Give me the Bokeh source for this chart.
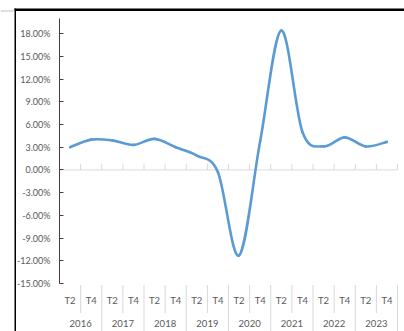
import numpy as np
from bokeh.plotting import figure
from bokeh.models import Range1d, FixedTicker, PrintfTickFormatter, BoxAnnotation
from bokeh.core.properties import value
from bokeh.embed import file_html
from bokeh.resources import INLINE

# ---- data ----
years = ["2016", "2017", "2018", "2019", "2020", "2021", "2022", "2023"]
halves = ["T2", "T4"]
growth = [3.0, 4.0, 3.9, 3.3, 4.1, 3.0, 1.9, -0.3,
          -11.3, 3.8, 18.4, 5.0, 3.1, 4.3, 3.1, 3.7]
y_ticks = [-15, -12, -9, -6, -3, 0, 3, 6, 9, 12, 15, 18]

FONT = "Lato"
TXT = "#595959"
GRID = "#D9D9D9"

n = len(growth)
xs = np.arange(n) + 0.5
ys = np.array(growth, dtype=float)
cat_labels = [h for _ in years for h in halves]

W, H = 404, 331
LEFT = 59.0          # pixel position of the value axis
XPX = 21.125         # pixels per category
ZERO = 169.4         # pixel row of 0 %
YPX = 7.57           # pixels per percentage point

p = figure(width=W, height=H, output_backend="svg", toolbar_location=None,
           x_range=Range1d(-LEFT / XPX, (W - LEFT) / XPX),
           y_range=Range1d(-(H - ZERO) / YPX, ZERO / YPX),
           min_border=0, x_axis_location=None, y_axis_location="left")
p.grid.visible = False
p.outline_line_color = None
p.background_fill_color = "white"
p.border_fill_color = "white"

ax = p.yaxis[0]
ax.fixed_location = 0
ax.bounds = (-15, 20)
ax.ticker = FixedTicker(ticks=y_ticks)
ax.formatter = PrintfTickFormatter(format="%.2f%%")
ax.axis_line_color = "#404040"
ax.major_tick_line_color = "#404040"
ax.major_tick_in = 4
ax.major_tick_out = 0
ax.minor_tick_line_color = None
ax.major_label_text_font = FONT
ax.major_label_text_font_size = "9px"
ax.major_label_text_color = TXT
ax.major_label_standoff = 9

# zero line with category boundary ticks
p.segment(x0=[0], y0=[0], x1=[n], y1=[0], line_color=GRID, line_width=1)
bnd = np.arange(1, n + 1)
p.segment(x0=bnd, y0=0, x1=bnd, y1=0.8, line_color=GRID, line_width=1)

# smoothed line (Catmull-Rom -> cubic Bezier, through every data point)
P = np.column_stack([xs, ys])
Pm = np.vstack([P[0], P, P[-1]])
c1 = P[:-1] + (Pm[2:-1] - Pm[:-3]) / 6.0
c2 = P[1:] - (Pm[3:] - Pm[1:-2]) / 6.0
p.bezier(x0=P[:-1, 0], y0=P[:-1, 1], x1=P[1:, 0], y1=P[1:, 1],
         cx0=c1[:, 0], cy0=c1[:, 1], cx1=c2[:, 0], cy1=c2[:, 1],
         line_color="#5B9BD5", line_width=2.6, line_cap="round")

# category axis area (two levels)
inner = np.arange(1, n, 2)
outer = np.arange(2, n + 1, 2)
p.segment(x0=inner, y0=-15.2, x1=inner, y1=-18.9, line_color=GRID, line_width=1)
p.segment(x0=outer, y0=-15.2, x1=outer, y1=-22, line_color=GRID, line_width=1)
p.text(x=xs, y=np.full(n, -17.25), text=cat_labels, text_align="center",
       text_baseline="middle", text_font=value(FONT), text_font_size="9.5px",
       text_color=TXT)
yx = np.arange(len(years)) * 2 + 1
p.text(x=yx, y=np.full(len(years), -20.3), text=years, text_align="center",
       text_baseline="middle", text_font=value(FONT), text_font_size="9.5px",
       text_color=TXT)

# sheet border lines (screen pixels, measured from the bottom edge)
def box(l, r, t, b, c):
    return BoxAnnotation(left=l, right=r, top=H - t, bottom=H - b,
                         left_units="screen", right_units="screen",
                         top_units="screen", bottom_units="screen",
                         fill_color=c, fill_alpha=1, line_color=None)

p.add_layout(box(14, W, 8, 10.5, "black"))
p.add_layout(box(14, 15.5, 8, H + 5, "black"))
p.add_layout(box(0, 14, 10, 11, "#BFBFBF"))

open("out.html", "w").write(file_html(p, INLINE))
